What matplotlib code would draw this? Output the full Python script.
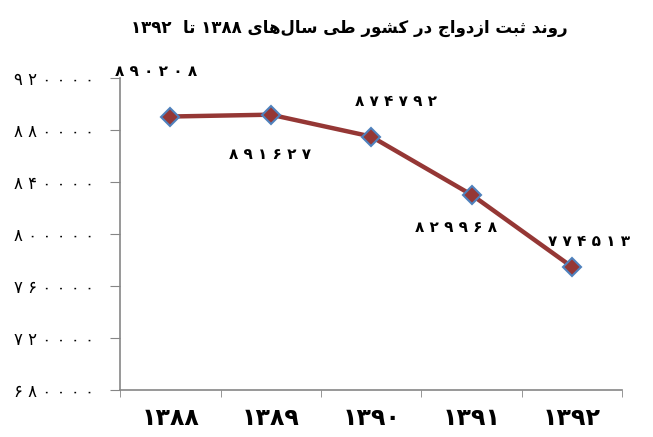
import matplotlib
matplotlib.use('Agg')

import matplotlib.pyplot as plt
import pandas as pd

years = ["۱۳۸۸", "۱۳۸۹", "۱۳۹۰", "۱۳۹۱", "۱۳۹۲"]
marriages = [890208, 891627, 874792, 829968, 774513]
y_ticks = [680000, 720000, 760000, 800000, 840000, 880000, 920000]
label_offsets = [(-14, 45), (-1, -40), (25, 35), (-16, -33), (17, 25)]

# title already shaped and put in visual order (matplotlib has no bidi)
title = ("۱۳۹۲  \uFE8E\uFE97 ۱۳۸۸ \uFEEF\uFE8E\uFEEB\uFEDD\uFE8E\uFEB3 \uFEF0\uFEC3 "
         "\uFEAD\uFEEE\uFEB8\uFEDB \uFEAD\uFEA9 \uFE9D\uFE8D\uFEED\uFEA9\uFEAF\uFE8D "
         "\uFE96\uFE92\uFE9B \uFEAA\uFEE7\uFEED\uFEAD")

def fa(n):
    return " ".join(str(n).translate(str.maketrans("0123456789", "۰۱۲۳۴۵۶۷۸۹")))

marriage_data = pd.DataFrame({"year": years, "count": marriages})

plt.figure(figsize=(6.53, 4.37), dpi=100)
ax = plt.axes([0.184, 0.108, 0.769, 0.714])
plt.plot(range(len(marriage_data)), marriage_data["count"], color='#953735', linewidth=3.2,
         marker='D', markersize=9, markerfacecolor='#953735', markeredgecolor='#4F81BD',
         markeredgewidth=1.5, zorder=3)

for i, v in enumerate(marriage_data["count"]):
    plt.annotate(fa(v), (i, v), xytext=label_offsets[i], textcoords='offset pixels',
                 ha='center', va='center', fontsize=11, fontweight='bold')

plt.xlim(-0.5, len(years) - 0.5)
plt.ylim(y_ticks[0], y_ticks[-1])
plt.yticks(y_ticks, [fa(t) for t in y_ticks], fontsize=12)
plt.xticks(range(len(years)), years, fontsize=17, fontweight='bold')
ax.set_xticks([i - 0.5 for i in range(len(years) + 1)], minor=True)
ax.tick_params(axis='x', which='major', length=0, pad=12)
ax.tick_params(axis='x', which='minor', length=5, color='#868686', direction='out')
ax.tick_params(axis='y', length=7, color='#868686', pad=12)
for side in ['top', 'right']:
    ax.spines[side].set_visible(False)
for side in ['left', 'bottom']:
    ax.spines[side].set_color('#868686')
    ax.spines[side].set_linewidth(1.2)

plt.figtext(0.535, 0.935, title, ha='center', va='center', fontsize=12, fontweight='bold')

# 1. Agg backend, no display needed.
# 2. Put the yearly counts in a DataFrame.
# 3. Draw the line with diamond markers and label each point.
# 4. Persian digits on both axes, gray axis lines only on the left and bottom.
# 5. Save the figure to out.png.
plt.savefig("out.png")
plt.close()
